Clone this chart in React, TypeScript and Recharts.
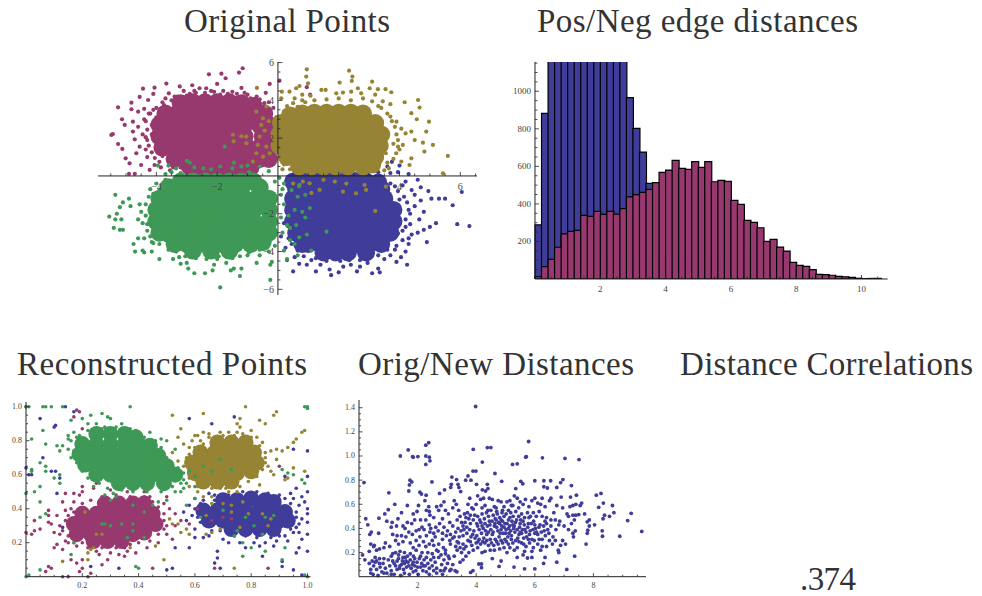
import React from "react";
import { ScatterChart, Scatter, XAxis, YAxis, ReferenceLine, ComposedChart, Bar } from "recharts";

type P = [number, number];
const BLUE = "#3F3D99", MAG = "#97396F", GOLD = "#968434", GREEN = "#3D9955";
const SERIF = "'Liberation Serif', serif";

// ---------- Panel 1: Original Points
const p1BlueCore: P[] = [[0.5,-0.3],[0.9,-0.3],[1.3,-0.25],[1.7,-0.25],[2.1,-0.25],[2.5,-0.25],[2.9,-0.3],[3.3,-0.35],[0.6,-0.7],[0.9,-0.6],[1.3,-0.6],[1.7,-0.6],[2.1,-0.6],[2.5,-0.6],[2.9,-0.6],[3.4,-0.7],[0.5,-1.2],[0.8,-1.2],[1.1,-1.2],[1.5,-1.2],[1.9,-1.2],[2.3,-1.2],[2.7,-1.2],[3.1,-1.2],[3.5,-1.2],[0.5,-1.8],[0.8,-1.8],[1.1,-1.8],[1.5,-1.8],[1.9,-1.8],[2.3,-1.8],[2.7,-1.8],[3.1,-1.8],[3.5,-1.8],[3.8,-1.8],[0.5,-2.4],[0.8,-2.4],[1.1,-2.4],[1.5,-2.4],[1.9,-2.4],[2.3,-2.4],[2.7,-2.4],[3.1,-2.4],[3.5,-2.4],[3.8,-2.4],[0.6,-3],[0.8,-3],[1.2,-3],[1.6,-3],[2,-3],[2.4,-3],[2.8,-3],[3.2,-3],[3.7,-3],[0.8,-3.6],[1,-3.6],[1.4,-3.6],[1.8,-3.6],[2.2,-3.6],[2.6,-3.6],[3,-3.6],[3.4,-3.6],[1.5,-4.05],[1.9,-4.05],[2.3,-4.05],[2.9,-4.05]];
const p1MagCore: P[] = [[-3.2,3.85],[-2.8,3.9],[-2.4,3.9],[-2,3.9],[-1.6,3.9],[-1.2,3.85],[-0.8,3.7],[-3.7,3.3],[-3.3,3.3],[-2.9,3.3],[-2.5,3.3],[-2.1,3.3],[-1.7,3.3],[-1.3,3.3],[-0.8,3.3],[-0.45,3.3],[-3.9,2.7],[-3.5,2.7],[-3.1,2.7],[-2.7,2.7],[-2.3,2.7],[-1.9,2.7],[-1.5,2.7],[-1.1,2.7],[-0.6,2.7],[-0.3,2.7],[-3.9,2.1],[-3.5,2.1],[-3.1,2.1],[-2.7,2.1],[-2.3,2.1],[-1.9,2.1],[-1.5,2.1],[-1.1,2.1],[-0.5,2.1],[-0.3,2.1],[-3.8,1.5],[-3.4,1.5],[-3,1.5],[-2.6,1.5],[-2.2,1.5],[-1.8,1.5],[-1.4,1.5],[-1,1.5],[-0.6,1.5],[-0.3,1.5],[-3.4,0.9],[-3,0.9],[-2.6,0.9],[-2.2,0.9],[-1.8,0.9],[-1.4,0.9],[-1,0.9],[-0.6,0.9],[-0.3,0.9],[-2.9,0.5],[-2.5,0.45],[-2.1,0.4],[-1.7,0.4],[-1.3,0.4],[-0.9,0.45]];
const p1GoldCore: P[] = [[0.8,3.3],[1.2,3.35],[1.6,3.35],[2,3.35],[2.4,3.35],[2.8,3.3],[0.4,3.2],[0.1,2.8],[0.4,2.8],[0.8,2.8],[1.2,2.8],[1.6,2.8],[2,2.8],[2.4,2.8],[2.8,2.8],[3.2,2.8],[0.05,2.2],[0.35,2.2],[0.7,2.2],[1.1,2.2],[1.5,2.2],[1.9,2.2],[2.3,2.2],[2.7,2.2],[3.1,2.2],[3.4,2.2],[0.05,1.6],[0.3,1.6],[0.6,1.6],[1,1.6],[1.4,1.6],[1.8,1.6],[2.2,1.6],[2.6,1.6],[3,1.6],[3.35,1.6],[0.3,1],[0.7,1],[1.1,1],[1.5,1],[1.9,1],[2.3,1],[2.7,1],[3.2,1],[0.7,0.5],[1.1,0.5],[1.5,0.5],[1.9,0.5],[2.3,0.5],[2.8,0.5],[3.1,0.6]];
const p1GreenCore: P[] = [[-3.2,-0.3],[-2.8,-0.3],[-2.4,-0.3],[-2,-0.3],[-1.6,-0.3],[-1.2,-0.3],[-0.8,-0.3],[-3.6,-0.6],[-3.2,-0.6],[-2.8,-0.6],[-2.4,-0.6],[-2,-0.6],[-1.6,-0.6],[-1.2,-0.6],[-0.6,-0.6],[-3.9,-1.2],[-3.5,-1.2],[-3.1,-1.2],[-2.7,-1.2],[-2.3,-1.2],[-1.9,-1.2],[-1.5,-1.2],[-1.1,-1.2],[-0.7,-1.2],[-0.3,-1.2],[-4,-1.8],[-3.6,-1.8],[-3.2,-1.8],[-2.8,-1.8],[-2.4,-1.8],[-2,-1.8],[-1.6,-1.8],[-1.2,-1.8],[-0.8,-1.8],[-0.3,-1.8],[-4,-2.4],[-3.6,-2.4],[-3.2,-2.4],[-2.8,-2.4],[-2.4,-2.4],[-2,-2.4],[-1.6,-2.4],[-1.2,-2.4],[-0.8,-2.4],[-0.3,-2.4],[-3.9,-3],[-3.5,-3],[-3.1,-3],[-2.7,-3],[-2.3,-3],[-1.9,-3],[-1.5,-3],[-1.1,-3],[-0.7,-3],[-0.3,-3],[-3.4,-3.6],[-3,-3.6],[-2.6,-3.6],[-2.2,-3.6],[-1.8,-3.6],[-1.4,-3.6],[-0.9,-3.6],[-0.5,-3.5],[-2.8,-3.95],[-2.2,-3.95],[-1.6,-3.95]];
const p1BlueOut: P[] = [[0.6,0.3],[0.95,0.35],[1.3,0.25],[3.3,0.2],[3.6,0.5],[3.7,0.15],[4,0.55],[3.95,0.2],[4.3,0.1],[3.75,0.75],[4.2,-0.3],[4.6,-0.2],[4.7,-0.6],[4.4,-0.75],[4.1,-0.5],[4.5,-1],[4.95,-0.8],[5.05,-1.2],[5.3,-1.2],[5.5,-1.2],[5.75,-1.55],[6.05,-0.85],[5.9,-2.55],[6.3,-2.65],[5.2,-2.5],[5,-2.7],[4.8,-2.85],[4.6,-3],[4.65,-2.3],[4.8,-1.9],[4.5,-1.6],[4.7,-1.3],[4.35,-2],[4.2,-2.7],[4.4,-3.1],[4.1,-3.4],[4.3,-3.6],[4.2,-4],[4.05,-4.3],[4.25,-4.7],[3.7,-4.2],[3.5,-4.4],[3.3,-4.9],[3.35,-5.1],[3.1,-5.15],[2.7,-4.8],[2.6,-5.05],[2.4,-4.7],[2.15,-4.8],[2,-5.1],[1.7,-4.95],[1.75,-5.25],[1.4,-4.7],[1.25,-5.05],[0.95,-4.7],[0.7,-4.65],[0.5,-5.05],[0.3,-4.45],[0.25,-3.8],[0.1,-3.2],[0.35,-3.3],[0.2,-2.5],[2.95,-4.6],[3.85,-3.9],[3.9,-4.55],[4.9,-3.5],[3.95,-3.05],[1.1,-4.45],[1.6,-4.5],[2.35,-4.45],[3,-4.35],[0.55,-4.3],[4.15,-1.1],[4.25,-1.4],[4.2,-2.3],[4.1,-2.9],[3.95,-0.8],[3.7,-0.4],[3.9,-3.7],[3.6,-3.9],[3.3,-4.2],[2.7,-4.45],[2.05,-4.5],[1.25,-4.35],[0.85,-4.25],[0.65,-3.95],[0.45,-3.6],[3.85,-0.55],[4,-1.25],[4.3,-1.8],[4.35,-2.55],[4.3,-3.3]];
const p1MagOut: P[] = [[-1.16,5.7],[-1.28,5.47],[-2.27,5.38],[-1.86,5.41],[-1.72,5.17],[0.05,5.04],[-0.27,4.87],[-3.67,4.89],[-4.06,4.67],[-4.44,4.62],[-3.23,4.74],[-2.82,4.8],[-2,4.87],[-1.2,4.66],[-4.82,3.88],[-5.26,3.63],[-4.55,4.18],[-4.27,4.02],[-3.59,4.37],[-2.58,4.64],[-2.36,4.64],[-4.1,4.34],[-4.82,3.53],[-4.6,3.4],[-5.13,3],[-5.04,2.7],[-4.77,2.87],[-5.48,2.17],[-5.43,2.22],[-5.26,1.69],[-5.12,1.43],[-5.01,0.93],[-4.88,0.67],[-4.9,0.11],[-4.71,0.11],[-4.5,0.58],[-4.77,2.35],[-4.71,1.94],[-4.55,1.55],[-4.66,1.2],[-4.22,0.32],[-4.06,0.58],[-4.4,3],[-4.25,3.3],[-4,3.6],[-3.8,3.9],[-4.6,2.6],[-4.45,2.2],[-4.3,1.9],[-4.35,1.4],[-4.3,1],[-4.05,0.95],[-3.85,0.45],[-3.7,4.1],[-3.4,4.2],[-3.1,4.5],[-2.9,4.35],[-2.7,4.4],[-2.4,4.4],[-2.1,4.45],[-1.8,4.5],[-1.5,4.45],[-1,4.3],[-0.7,4.2],[-0.4,4.4],[-0.3,3.9],[-0.15,3.6],[-0.05,3.1],[0.2,3.4],[-4.4,3.55],[-4.15,2.7],[0.15,2.6],[0.3,3],[0.95,4.7],[1.06,4.3],[-4.2,3.3],[-4.35,2.9],[-4.3,2.45],[-4.35,2.05],[-4.25,1.6],[-4.15,1.25],[-3.95,1.25],[-3.9,0.75],[-3.6,0.95],[-3.45,0.45],[-3.2,0.45],[-3.75,3.75],[-3.5,4],[-3.3,4.2],[-3,4.25],[-2.75,4.5],[-2.2,4.5],[-1.9,4.3],[-1.65,4.35],[-1.35,4.35],[-1.1,4.4],[-0.9,4.1],[-0.6,4.05],[-0.45,3.85],[-4,3.1],[-4.15,2.2],[-4.1,3.5],[-3.9,3.3],[-3.55,0.3],[-3.8,1.05]];
const p1GoldOut: P[] = [[0.95,5.64],[0.93,5.26],[0.99,4.9],[2.34,5.57],[2.45,5.26],[2.43,5.03],[2.03,4.94],[3.1,4.99],[0.71,4.76],[0.6,4.64],[-0.69,4.66],[0.13,4.46],[0.38,4.46],[0.11,4.11],[1.07,4.25],[1.43,4.55],[1.57,4.55],[1.92,4.37],[2.14,4.41],[2.41,4.46],[2.63,4.64],[2.74,4.37],[3.02,4.64],[3.29,4.59],[3.54,4.59],[3.73,4.43],[4.17,3.9],[4.61,4.02],[4.66,3.62],[4.39,3.32],[4.57,3],[4.97,2.87],[4.88,2.35],[4.39,2.35],[4.77,1.76],[5.1,1.64],[5.59,1.06],[4.82,1.29],[4.39,0.93],[4.33,0.58],[5.43,0.14],[3.95,1.9],[4.11,1.64],[3.89,1.2],[4.06,0.76],[3.7,3.14],[3.9,2.87],[4.06,2.5],[4.2,2.25],[4.5,1.9],[4,1.4],[3.2,4.3],[3.45,3.95],[3.7,3.8],[0.8,4.3],[0.55,4.1],[0.8,4],[1.5,-0.2],[1.87,-0.3],[2.25,-0.4],[2.14,-0.83],[2.57,-0.92],[2.85,-0.48],[2.9,-0.74],[3.55,-0.56],[3.2,-1.85],[0.82,-0.3],[1.1,-0.9],[1.37,-0.74],[0.5,-0.4],[0.71,-0.48],[1.04,-0.39],[-1.48,2.18],[-1.46,1.83],[-1.2,2.1],[-1.04,2.08],[-1.04,1.73],[-0.6,2.08],[-0.66,1.64],[-0.71,1.2],[-0.82,0.76],[-0.49,3.05],[-0.71,3.4],[-0.38,3.67],[-0.55,2.7],[-0.44,2.4],[-0.38,1.55],[-0.27,1.2],[-0.49,1.02],[-0.3,2.9],[0.9,3.9],[1.2,4],[1.6,4.05],[2,4.1],[2.4,4],[2.8,4.1],[3.1,3.95],[3.4,3.6],[3.6,3.3],[3.85,2.6],[3.9,2.2],[3.95,1.55],[3.8,0.9],[3.6,0.7],[3.5,0.3],[3.2,0.3],[0.3,3.7],[0.5,3.85],[0.65,3.65],[3.3,3.7],[3.75,2.9],[3.8,1.7],[3.55,1.2],[3.65,0.4],[0.2,0.6],[0.4,0.35],[0.15,0.35],[0.1,1]];
const p1GreenOut: P[] = [[-1.75,1.55],[-3,0.8],[-2.9,0.7],[-3.6,0.55],[-3.95,0.55],[-3.35,0.4],[-2.75,0.45],[-2.45,0.4],[-2.2,0.35],[-1.9,0.5],[-1.5,0.4],[-1.45,0.7],[-1.2,0.5],[-1,0.55],[-0.6,0.5],[-0.3,0.25],[-0.95,0.2],[0.05,-0.1],[0.2,-0.4],[0.45,-0.75],[0.65,-1.1],[0.9,-1],[1.05,-1.7],[0.8,-1.9],[0.55,-1.8],[0.35,-2.1],[0.6,-2.6],[0.4,-2.75],[0.95,-3.1],[1.6,-2.95],[0.4,-3.4],[0.55,-3.6],[1.1,-3.95],[0.65,-4.2],[0.3,-4.4],[0.2,-3.95],[-0.2,-4.55],[-0.25,-4.7],[-0.25,-5.5],[-1.9,-5.9],[-1.25,-5.3],[-1.45,-4.9],[-1.2,-4.9],[-1.55,-5],[-1.7,-4.6],[-1.5,-4.35],[-2,-4.4],[-2.1,-4.7],[-2.15,-5],[-2.4,-5.15],[-2.75,-5.15],[-2.95,-4.9],[-3,-4.6],[-3.2,-4.65],[-3.25,-4.3],[-3.45,-4.4],[-3.9,-4.4],[-4.15,-4],[-4.4,-4.05],[-4.45,-3.95],[-4.7,-4],[-4.75,-3.6],[-4.6,-3.3],[-5.1,-2.85],[-5.4,-2.75],[-5.2,-2.85],[-5.15,-2.3],[-5.55,-2.15],[-5.35,-2.3],[-5.3,-2],[-5.2,-1.65],[-5.1,-1.4],[-4.9,-1.2],[-5.35,-1],[-4.85,-1.6],[-4.55,-1.5],[-4.5,-1.9],[-4.6,-2.3],[-4.45,-2.5],[-4.3,-2.9],[-4.4,-3.3],[-4.15,-3.5],[-4.25,-1.1],[-4.2,-0.7],[-4,-0.4],[-3.7,-0.2],[-0.6,-4.2],[-0.7,-4.6],[-1,-4.2],[-0.3,-4],[-3.6,-3.9],[-4,-3.2],[0.15,-0.7],[-0.1,-0.3],[-3.5,0.2],[-3.2,0.15],[-4.35,-1.5],[-4.35,-2.1],[-4.3,-2.55],[-4.2,-3.2],[-3.9,-3.6],[-3.7,-3.4],[-3.35,-4],[-3.05,-4.25],[-2.7,-4.35],[-2.35,-4.4],[-1.95,-4.25],[-1.6,-4.3],[-1.25,-4.25],[-0.95,-4.05],[-0.6,-3.9],[-0.1,-3.7],[0.15,-3],[0.1,-2.2],[0.2,-1.5],[0.1,-1],[-4.1,-0.95],[-3.9,-0.75],[-3.7,0.1],[-4.1,-3.55],[0.3,-2.6],[0.7,-3.25],[0.9,-2.2],[0.7,-0.55]];

// ---------- Panel 2: histogram
const binStarts = [0,0.2,0.4,0.6,0.8,1,1.2,1.4,1.6,1.8,2,2.2,2.4,2.6,2.8,3,3.2,3.4,3.6,3.8,4,4.2,4.4,4.6,4.8,5,5.2,5.4,5.6,5.8,6,6.2,6.4,6.6,6.8,7,7.2,7.4,7.6,7.8,8,8.2,8.4,8.6,8.8,9,9.2,9.4,9.6,9.8,10,10.2,10.4,10.6];
const posCounts = [288,882,1250,1300,1330,1340,1320,1350,1330,1340,1300,1290,1280,1240,966,802,676,509,380,270,180,120,70,40,20,10,5,2,0,0,0,0,0,0,0,0,0,0,0,0,0,0,0,0,0,0,0,0,0,0,0,0,0,0];
const negCounts = [12,66,105,169,240,254,259,339,334,360,344,360,346,375,437,449,461,477,513,568,580,632,589,584,625,595,625,518,525,520,419,398,312,302,273,200,211,170,149,89,73,67,50,25,23,20,14,12,9,4,2,3,3,0];
const histRows = binStarts.map((b, i) => ({ bin: String(b), start: b, pos: posCounts[i], neg: negCounts[i] }));

// ---------- Panel 3: Reconstructed Points
const p3BlueCore: P[] = [[0.7,0.45],[0.75,0.45],[0.8,0.46],[0.85,0.45],[0.88,0.44],[0.63,0.39],[0.68,0.39],[0.73,0.39],[0.78,0.39],[0.83,0.39],[0.88,0.39],[0.92,0.38],[0.65,0.33],[0.7,0.33],[0.75,0.33],[0.8,0.33],[0.85,0.33],[0.9,0.33],[0.93,0.33],[0.73,0.28],[0.78,0.28],[0.83,0.28],[0.88,0.28]];
const p3MagCore: P[] = [[0.28,0.43],[0.33,0.43],[0.38,0.43],[0.42,0.43],[0.2,0.37],[0.25,0.37],[0.3,0.37],[0.35,0.37],[0.4,0.37],[0.45,0.37],[0.17,0.31],[0.22,0.31],[0.27,0.31],[0.32,0.31],[0.37,0.31],[0.42,0.31],[0.46,0.31],[0.18,0.25],[0.23,0.25],[0.28,0.25],[0.33,0.25],[0.38,0.25],[0.42,0.26],[0.24,0.21],[0.29,0.21],[0.34,0.21]];
const p3GoldCore: P[] = [[0.68,0.79],[0.73,0.79],[0.78,0.79],[0.62,0.73],[0.67,0.73],[0.72,0.73],[0.77,0.73],[0.81,0.73],[0.59,0.67],[0.64,0.67],[0.69,0.67],[0.74,0.67],[0.79,0.67],[0.82,0.67],[0.6,0.61],[0.65,0.61],[0.7,0.61],[0.75,0.61],[0.8,0.62],[0.63,0.56],[0.68,0.56],[0.73,0.56]];
const p3GreenCore: P[] = [[0.25,0.84],[0.3,0.84],[0.35,0.84],[0.39,0.82],[0.2,0.78],[0.25,0.78],[0.3,0.78],[0.35,0.78],[0.4,0.78],[0.44,0.77],[0.19,0.72],[0.24,0.72],[0.29,0.72],[0.34,0.72],[0.39,0.72],[0.44,0.72],[0.47,0.71],[0.21,0.66],[0.26,0.66],[0.31,0.66],[0.36,0.66],[0.41,0.66],[0.46,0.66],[0.5,0.65],[0.25,0.6],[0.3,0.6],[0.35,0.6],[0.4,0.6],[0.45,0.6],[0.5,0.6],[0.53,0.6],[0.33,0.55],[0.38,0.55],[0.43,0.55],[0.49,0.55]];
const p3BlueOut: P[] = [[0,1],[0.14,1],[0.17,0.97],[0.05,0.93],[0.1,0.88],[0.105,0.89],[0.06,0.7],[0,0.64],[0.01,0.6],[0.02,0.6],[0.09,0.62],[0.105,0.62],[0.12,0.58],[0.58,0.93],[0.74,0.94],[0.66,0.9],[1,0.74],[0.95,0.75],[0.92,0.59],[1,0.59],[1,0.5],[0.98,0.47],[0.95,0.46],[0.97,0.42],[1,0.4],[0.96,0.38],[1,0.37],[0.98,0.34],[1,0.32],[0.96,0.29],[0.95,0.26],[1,0.25],[0.98,0.22],[0.92,0.24],[0.89,0.21],[0.85,0.2],[0.83,0.18],[0.78,0.17],[0.76,0.2],[0.72,0.2],[0.68,0.15],[0.68,0.11],[0.67,0.08],[0.69,0.05],[0.5,0.04],[0.52,0.05],[0.33,0.05],[0.23,0.06],[0.13,0.29],[0.11,0.49],[0.27,0.2],[0.35,0.17],[0.53,0.17],[0.58,0.17],[0.6,0.23],[0.6,0.28],[0.57,0.33],[0.59,0.36],[0.56,0.38],[0.58,0.42],[0.6,0.46],[0.63,0.45],[0.65,0.49],[0.67,0.48],[0.94,0.49],[0.96,0.52],[0.91,0.06],[0.98,0.01],[0.95,0.04],[0.97,0.17],[1,0.15],[0.96,0.14],[0.84,0.12],[0.91,0.09],[0.7,0.22],[0.66,0.27],[0.63,0.23],[0.92,0.46],[0.94,0.43],[0.96,0.35],[0.94,0.28],[0.9,0.24],[0.87,0.23],[0.82,0.23],[0.78,0.24],[0.74,0.24],[0.69,0.27],[0.62,0.32],[0.61,0.35],[0.6,0.4],[0.62,0.43],[0.67,0.45],[0.72,0.48],[0.77,0.5],[0.82,0.5],[0.86,0.49],[0.9,0.48],[0.97,0.31],[0.97,0.26],[0.93,0.21],[0.88,0.18],[0.81,0.2],[0.65,0.24],[0.99,0.44]];
const p3MagOut: P[] = [[0.18,0.98],[0.19,0.97],[0.17,0.94],[0.2,0.87],[0.22,0.79],[0,0.26],[0.02,0.25],[0.03,0.27],[0.03,0.33],[0.05,0.28],[0.08,0.32],[0.08,0.36],[0.08,0.39],[0.09,0.31],[0.1,0.26],[0.11,0.36],[0.12,0.25],[0.11,0.19],[0.1,0.17],[0.13,0.16],[0.14,0.21],[0.15,0.24],[0.14,0.39],[0.16,0.4],[0.17,0.44],[0.13,0.44],[0.14,0.49],[0.17,0.49],[0.19,0.48],[0.2,0.5],[0.2,0.53],[0.24,0.52],[0.25,0.55],[0.3,0.51],[0.42,0.5],[0.44,0.47],[0.49,0.43],[0.51,0.4],[0.53,0.37],[0.55,0.33],[0.5,0.3],[0.5,0.25],[0.52,0.22],[0.47,0.2],[0.43,0.17],[0.39,0.14],[0.35,0.12],[0.33,0.13],[0.29,0.1],[0.27,0.07],[0.2,0.1],[0.18,0.08],[0.16,0.1],[0.2,0.05],[0.09,0.05],[0.08,0.06],[0.07,0.03],[0.13,0],[0.15,0],[0.19,0.03],[0.22,0],[0.23,0.02],[0.45,0.05],[0.67,0.05],[0.86,0.05],[0.7,0.35],[0.73,0.34],[0.66,0.33],[0.61,0.4],[0.58,0.31],[0.53,0.3],[0.9,0.65],[0.22,0.17],[0.25,0.15],[0.3,0.14],[0.37,0.19],[0.32,0.17],[0.14,0.33],[0.13,0.27],[0.15,0.2],[0.18,0.18],[0.2,0.2],[0.27,0.17],[0.33,0.18],[0.4,0.2],[0.44,0.21],[0.47,0.25],[0.49,0.28],[0.49,0.33],[0.49,0.37],[0.47,0.41],[0.45,0.44],[0.42,0.47],[0.37,0.47],[0.32,0.48],[0.27,0.47],[0.23,0.45],[0.2,0.43],[0.17,0.38],[0.15,0.36],[0.36,0.15],[0.41,0.24],[0.12,0.3],[0.26,0.13],[0.5,0.47],[0.36,0.5]];
const p3GoldOut: P[] = [[0.52,0.95],[0.63,0.96],[0.78,1],[0.89,0.97],[0.88,0.95],[0.85,0.9],[0.83,0.92],[0.8,0.86],[0.76,0.93],[0.75,0.9],[0.76,0.88],[0.55,0.87],[0.54,0.82],[0.6,0.83],[0.61,0.83],[0.63,0.85],[0.65,0.84],[0.69,0.85],[0.72,0.85],[0.75,0.85],[0.77,0.84],[0.8,0.82],[0.84,0.79],[0.87,0.74],[0.89,0.75],[0.91,0.74],[0.93,0.76],[0.95,0.79],[0.98,0.85],[0.99,0.86],[0.96,0.81],[0.85,0.7],[0.89,0.69],[0.86,0.65],[0.88,0.6],[0.95,0.64],[0.99,0.62],[0.92,0.57],[0.52,0.73],[0.54,0.68],[0.55,0.62],[0.56,0.78],[0.58,0.76],[0.58,0.72],[0.59,0.8],[0.58,0.53],[0.61,0.5],[0.63,0.47],[0.66,0.47],[0.69,0.52],[0.72,0.5],[0.75,0.5],[0.77,0.44],[0.73,0.42],[0.7,0.43],[0.66,0.43],[0.64,0.36],[0.73,0.38],[0.79,0.37],[0.84,0.37],[0.87,0.34],[0.86,0.3],[0.76,0.29],[0.69,0.28],[0.66,0.26],[0.64,0.25],[0.58,0.25],[0.55,0.26],[0.57,0.28],[0.54,0.31],[0.52,0.31],[0.51,0.34],[0.21,0.38],[0.25,0.25],[0.27,0.25],[0.22,0.14],[0.23,0.16],[0.24,0.17],[0.22,0.1],[0.13,0.09],[0.46,0.18],[0.67,0.59],[0.7,0.61],[0.72,0.56],[0.49,0.1],[0.74,0.05],[0.37,0.17],[0.93,0.58],[0.58,0.63],[0.6,0.57],[0.17,0.2],[0.62,0.8],[0.65,0.82],[0.7,0.83],[0.74,0.83],[0.79,0.8],[0.83,0.77],[0.85,0.73],[0.85,0.67],[0.84,0.63],[0.82,0.59],[0.79,0.56],[0.76,0.53],[0.71,0.52],[0.66,0.52],[0.61,0.53],[0.58,0.58],[0.56,0.65],[0.57,0.7],[0.6,0.76],[0.63,0.78],[0.82,0.82],[0.87,0.62],[0.83,0.54]];
const p3GreenOut: P[] = [[0,1],[0.01,1],[0.06,1],[0.07,1],[0.09,1],[0.13,1],[0.37,1],[0.27,0.96],[0.3,0.93],[0.29,0.94],[0.23,0.95],[0.16,0.92],[0.2,0.93],[0.25,0.9],[0.28,0.88],[0.06,0.86],[0.02,0.81],[0.07,0.78],[0.11,0.77],[0.12,0.74],[0.13,0.77],[0.15,0.75],[0.15,0.81],[0.15,0.83],[0.18,0.82],[0.05,0.67],[0.07,0.65],[0.02,0.63],[0.07,0.62],[0.02,0.62],[0.12,0.6],[0.1,0.58],[0.12,0.55],[0.05,0.53],[0.03,0.5],[0.05,0.44],[0.05,0.35],[0.07,0.37],[0,0.49],[0.44,0.85],[0.42,0.82],[0.48,0.81],[0.5,0.8],[0.53,0.75],[0.48,0.76],[0.55,0.55],[0.57,0.55],[0.6,0.53],[0.53,0.5],[0.55,0.5],[0.5,0.45],[0.47,0.44],[0.45,0.42],[0.42,0.38],[0.38,0.42],[0.3,0.45],[0.32,0.47],[0.28,0.48],[0.38,0.31],[0.34,0.31],[0.3,0.3],[0.28,0.31],[0.27,0.31],[0.36,0.23],[0.38,0.27],[0.42,0.23],[0.16,0.13],[0.17,0.2],[0.05,0.04],[0.39,0.06],[0.4,0.05],[1,1],[1,0.99],[0.99,1],[0,0],[0.01,0.01],[1,0],[0.99,0.01],[0.98,0.57],[0.99,0.55],[0.95,0.6],[0.91,0.63],[0.93,0.61],[0.69,0.69],[0.66,0.62],[0.63,0.65],[0.73,0.63],[0.7,0.39],[0.75,0.27],[0.78,0.35],[0.81,0.3],[0.85,0.35],[0.88,0.36],[0.84,0.25],[0.8,0.17],[0.77,0.12],[0.85,0.15],[0.91,0.1],[0.92,0.17],[0.74,0.24],[0.77,0.2],[0.57,0.42],[0.6,0.46],[0.62,0.35],[0.58,0.62],[0.56,0.61],[0.16,0.8],[0.17,0.74],[0.16,0.7],[0.18,0.67],[0.2,0.62],[0.22,0.58],[0.26,0.55],[0.29,0.52],[0.34,0.51],[0.38,0.5],[0.43,0.5],[0.48,0.5],[0.52,0.53],[0.56,0.57],[0.54,0.64],[0.5,0.7],[0.46,0.75],[0.43,0.8],[0.37,0.87],[0.32,0.88],[0.27,0.87],[0.22,0.86],[0.19,0.83],[0.34,0.9],[0.39,0.86],[0.46,0.8],[0.24,0.53],[0.31,0.49],[0.56,0.52],[0.6,0.59],[0.17,0.85],[0.22,0.9]];

// ---------- Panel 4: Orig/New Distances
const p4Points: P[] = [[3.98,1.41],[5.79,1.12],[2.28,1.09],[2.38,1.11],[1.68,1.05],[3.9,1.055],[4.38,1.07],[4.5,1.07],[1.41,1],[1.83,0.995],[1.85,0.99],[2.01,0.995],[2.28,1],[2.4,0.99],[2.42,0.96],[2.28,0.93],[4.21,0.95],[5.24,0.93],[5.4,0.935],[5.71,0.995],[5.69,0.99],[6.26,0.985],[7.03,0.98],[7.51,0.97],[0.17,0.78],[3.89,0.875],[3.99,0.875],[4.64,0.855],[3.17,0.825],[3.33,0.805],[3.72,0.835],[3.64,0.8],[3.82,0.8],[1.74,0.8],[1.8,0.785],[1.72,0.76],[2.49,0.785],[1.7,0.71],[1.02,0.695],[2.08,0.7],[2.13,0.685],[2.29,0.675],[2.25,0.63],[2.75,0.69],[2.92,0.72],[3.15,0.765],[3.13,0.74],[3.38,0.765],[3.41,0.74],[3.47,0.705],[4.01,0.765],[4.38,0.765],[4.4,0.73],[4.21,0.72],[4.32,0.71],[4.87,0.79],[5.35,0.73],[5.52,0.79],[5.59,0.77],[6,0.795],[6.31,0.795],[6.54,0.795],[6.31,0.745],[6.43,0.735],[6.75,0.74],[6.88,0.78],[6.96,0.805],[7.25,0.755],[7.22,0.66],[6.9,0.66],[7.42,0.675],[8.1,0.675],[8.26,0.69],[8.18,0.575],[8.34,0.61],[8.65,0.59],[8.7,0.53],[9.29,0.525],[8.38,0.51],[8.33,0.48],[8.55,0.5],[9.17,0.465],[9.65,0.375],[8.9,0.335],[8.3,0.38],[8.31,0.335],[8.04,0.43],[7.86,0.47],[7.79,0.455],[7.86,0.42],[7.81,0.385],[7.79,0.36],[7.75,0.27],[7.36,0.17],[7.09,0.06],[6,0.065],[5.65,0.065],[5.29,0.08],[4.78,0.085],[4.18,0.075],[3.81,0.035],[3.89,0.05],[4.09,0.105],[4.18,0.105],
[0.23,0.48],[0.3,0.43],[0.37,0.35],[0.42,0.37],[0.4,0.27],[0.5,0.25],[0.67,0.36],[0.68,0.485],[0.88,0.52],[0.95,0.46],[1,0.555],[1.13,0.45],[1.1,0.41],[1.22,0.6],[1.28,0.42],[1.33,0.48],[1.45,0.53],[1.5,0.42],[1.57,0.4],[1.65,0.59],[1.65,0.45],[1.8,0.44],[1.85,0.52],[1.9,0.47],[1.98,0.54],[2.03,0.59],[2.1,0.47],[2.05,0.39],[2.15,0.41],[2.3,0.55],[2.38,0.58],[2.4,0.54],[2.42,0.51],[2.28,0.47],[2.4,0.43],[2.45,0.4],[2.55,0.49],[2.65,0.58],[2.72,0.55],[2.8,0.59],[2.9,0.62],[2.95,0.55],[3.05,0.52],[2.85,0.48],[2.75,0.44],[2.9,0.41],[3.1,0.45],[3.02,0.38],[3.2,0.57],[3.25,0.63],[3.32,0.6],[3.4,0.55],[3.45,0.5],[3.5,0.45],[3.55,0.42],[3.65,0.49],[3.7,0.53],[3.72,0.6],[3.78,0.65],[3.85,0.57],[3.9,0.56],[3.95,0.51],[4,0.6],[4.05,0.67],[4.15,0.64],[4.25,0.65],[4.3,0.59],[4.4,0.55],[4.45,0.65],[4.55,0.64],[4.62,0.58],[4.7,0.54],[4.75,0.63],[4.85,0.62],[4.95,0.58],[5.05,0.62],[5.1,0.55],[5.15,0.63],[5.25,0.59],[5.3,0.67],[5.4,0.65],[5.5,0.62],[5.6,0.6],[5.68,0.64],[5.8,0.58],[5.9,0.63],[6,0.65],[6.1,0.61],[6.2,0.6],[6.25,0.65],[6.35,0.58],[6.5,0.63],[6.55,0.65],[6.75,0.59],[6.95,0.57],[7.1,0.52],[7.3,0.51],[7.4,0.51],[7.5,0.515],[7.55,0.59],[7.7,0.52],[7.4,0.6],[7.6,0.61],[7.3,0.59],[7.2,0.58],[6.65,0.53],[6.7,0.47],[6.85,0.46],[7,0.42],[7.15,0.39],[7.25,0.44],[7.35,0.47],[7.15,0.5],[7.38,0.38],[7.3,0.36],[7.32,0.33],[7.05,0.27],[6.95,0.3],[6.88,0.26],[6.8,0.22],[6.82,0.2],[6.75,0.12],[6.3,0.11],[6.35,0.16],[5.9,0.16],[5.75,0.155],[5.6,0.18],[5.4,0.16],[5.05,0.2],[5.15,0.24],[4.95,0.24],[4.85,0.13],[4.55,0.15],[4.3,0.21],[4.2,0.2],[4.05,0.24],[3.9,0.22],[3.75,0.2],[3.65,0.17],[3.5,0.2],[3.55,0.14],[3.45,0.12],[3.35,0.22],[3.3,0.25],[3.12,0.27],[2.95,0.22],
[3.2,0.42],[3.3,0.37],[3.42,0.33],[3.55,0.34],[3.68,0.36],[3.72,0.3],[3.82,0.33],[3.92,0.38],[4.02,0.34],[4.1,0.31],[4.18,0.36],[4.26,0.32],[4.32,0.38],[4.38,0.42],[4.45,0.46],[4.5,0.39],[4.55,0.35],[4.62,0.42],[4.68,0.47],[4.74,0.38],[4.8,0.44],[4.85,0.39],[4.9,0.46],[4.95,0.41],[5,0.36],[5.05,0.44],[5.1,0.4],[5.15,0.49],[5.2,0.34],[5.25,0.43],[5.32,0.37],[5.38,0.47],[5.42,0.32],[5.48,0.41],[5.55,0.36],[5.6,0.46],[5.66,0.39],[5.72,0.33],[5.78,0.44],[5.84,0.38],[5.9,0.31],[5.96,0.46],[6.02,0.4],[6.1,0.35],[6.18,0.43],[6.25,0.31],[6.32,0.38],[6.4,0.44],[6.48,0.36],[6.55,0.42],[6.62,0.33],[6.72,0.39],[6.82,0.43],[6.5,0.3],[6.25,0.25],[6.1,0.27],[5.95,0.24],[5.82,0.28],[5.7,0.25],[5.55,0.28],[5.4,0.24],[5.25,0.28],[5.1,0.27],[4.9,0.28],[4.75,0.27],[4.6,0.26],[4.42,0.26],[4.3,0.28],[4.15,0.27],[4,0.28],[3.85,0.26],[3.65,0.25],[4.05,0.5],[4.12,0.47],[4.2,0.52],[4.28,0.48],[4.35,0.53],[4.42,0.5],[4.5,0.55],[4.58,0.51],[4.65,0.48],[4.72,0.52],[4.8,0.49],[4.88,0.53],[4.95,0.5],[5.02,0.52],[5.1,0.47],[5.18,0.53],[5.26,0.5],[5.35,0.54],[5.45,0.5],[5.55,0.52],[5.65,0.49],[5.75,0.53],[5.85,0.5],[5.95,0.53],[6.05,0.5],[6.15,0.54],[6.25,0.5],[6.4,0.49],[6.55,0.47],[5.3,0.42],[5.12,0.36],[4.98,0.31],[4.78,0.33],[4.65,0.31],[4.48,0.31],[4.85,0.47],[5.5,0.44],[5.62,0.32],[5.8,0.49],[5.5,0.37],[5.35,0.3],[6.35,0.46],[6,0.36],[3.35,0.47],[3.6,0.52],[3.8,0.44],[3.9,0.47],[3.62,0.45],[3.75,0.48],[4.05,0.42],[4.2,0.42],[4.68,0.57],[4.9,0.55],[5.45,0.57],[5.2,0.59],[3.8,0.51],[4.2,0.57],
[0.35,0.11],[0.4,0.06],[0.4,0.03],[0.45,0.13],[0.5,0.09],[0.48,0.02],[0.55,0.12],[0.6,0.06],[0.65,0.01],[0.7,0.15],[0.72,0.08],[0.78,0.04],[0.82,0.11],[0.85,0.15],[0.9,0.07],[0.95,0.03],[1,0.14],[1.05,0.09],[1.1,0.05],[1.15,0.13],[1.2,0.02],[1.25,0.09],[1.3,0.06],[1.35,0.15],[1.4,0.09],[1.42,0.01],[1.48,0.13],[1.52,0.06],[1.55,0.11],[1.58,0.16],[1.62,0.08],[1.67,0.12],[1.72,0.02],[1.75,0.14],[1.78,0.07],[1.82,0.1],[1.86,0.17],[1.9,0.09],[1.94,0.05],[1.98,0.12],[2.02,0.02],[2.06,0.15],[2.1,0.08],[2.14,0.11],[2.18,0.05],[2.22,0.14],[2.26,0.09],[2.3,0.04],[2.35,0.11],[2.4,0.07],[2.45,0.14],[2.5,0.09],[2.55,0.05],[2.6,0.12],[2.65,0.07],[2.72,0.16],[2.78,0.05],[2.82,0.1],[2.9,0.14],[2.95,0.07],[3.02,0.11],[3.08,0.15],[3.14,0.06],[3.2,0.1],[3.28,0.05],[3.34,0.04],[3.1,0.05],[2.9,0.05],[1.3,0.13],[1.45,0.1],[1.6,0.13],[1.38,0.07],[1.2,0.11],[1.7,0.09],[1.85,0.12],[2,0.08],[2.2,0.09],[0.7,0.11],[0.55,0.16],[1.1,0.17],[1.25,0.2],[1.15,0.19],[1.4,0.21],[1.55,0.2],[1.75,0.19],[1.95,0.22],[2.15,0.2],[2.35,0.2],[2.5,0.19],[2.65,0.22],[2.8,0.18],[2.95,0.19],[3.05,0.17],[3.25,0.17],[1.05,0.25],[0.9,0.28],[0.85,0.24],[0.7,0.23],[0.6,0.22],[0.52,0.26],[0.35,0.21],[0.12,0.18],[0.2,0.14],[1.25,0.3],[1.35,0.27],[1.5,0.29],[1.6,0.33],[1.75,0.28],[1.82,0.35],[1.95,0.3],[2.08,0.33],[2.2,0.29],[2.3,0.34],[2.42,0.37],[2.5,0.3],[2.6,0.33],[2.72,0.27],[2.85,0.31],[2.98,0.34],[3.1,0.3],[3.2,0.32],[3.35,0.29],[2.05,0.26],[2.28,0.25],[2.55,0.26],[1.45,0.34],[1.95,0.38],[2.22,0.39],[2.62,0.41],[1.15,0.35],
[4.02,0.44],[4.1,0.39],[4.16,0.45],[4.24,0.4],[4.3,0.44],[4.36,0.35],[4.42,0.37],[4.47,0.43],[4.54,0.46],[4.58,0.37],[4.64,0.44],[4.7,0.41],[4.76,0.45],[4.82,0.36],[4.87,0.42],[4.92,0.36],[4.98,0.44],[5.02,0.39],[5.08,0.33],[5.14,0.42],[5.18,0.38],[5.22,0.46],[5.28,0.4],[5.34,0.45],[5.4,0.39],[5.46,0.35],[5.52,0.47],[5.58,0.39],[5.64,0.43],[5.7,0.37],[5.76,0.41],[5.82,0.35],[5.88,0.44],[5.94,0.39],[6,0.43],[6.06,0.37],[6.14,0.41],[6.22,0.37],[6.3,0.42],[6.36,0.34],[6.44,0.39],[3.25,0.33],[3.38,0.4],[3.48,0.38],[3.58,0.39],[3.68,0.41],[3.78,0.39],[3.88,0.35],[3.96,0.32],[4.06,0.29],[4.22,0.29],[4.36,0.3],[4.52,0.28],[4.7,0.29],[4.85,0.3],[5.03,0.29],[5.2,0.31],[5.46,0.29],[5.62,0.27],[5.78,0.31],[5.98,0.3],[6.15,0.31],[3.4,0.28],[3.55,0.27],[3.45,0.24],[3.58,0.23],[3.8,0.29],[4.48,0.22],[4.62,0.22],[4.8,0.23],[5.3,0.22],[5.65,0.21],[5.9,0.21],[6.2,0.22],[6.4,0.25],[6.6,0.27],[6.7,0.3],[2.55,0.36],[2.7,0.38],[2.85,0.36],[3.12,0.35],[1.3,0.34],[1.7,0.37],[1.85,0.24],[2.4,0.27],[2.7,0.21],[2.88,0.24],[1.35,0.18],[1.5,0.16],[1.65,0.17],[1.9,0.15],[2.1,0.17],[2.3,0.16],[2.55,0.16],[2.85,0.02],[2.65,0.03],[2.4,0.02],[1.55,0.03],[1.85,0.04],[1.1,0.02],[0.85,0.03],[0.6,0.13]];

// ---------- Tick values
const p1XTicks = [-5.5,-5,-4.5,-4,-3.5,-3,-2.5,-2,-1.5,-1,-0.5,0.5,1,1.5,2,2.5,3,3.5,4,4.5,5,5.5,6,6.5];
const p1YTicks = [-6,-5.5,-5,-4.5,-4,-3.5,-3,-2.5,-2,-1.5,-1,-0.5,0.5,1,1.5,2,2.5,3,3.5,4,4.5,5,5.5,6];
const p2XTicks = [0.5,1,1.5,2,2.5,3,3.5,4,4.5,5,5.5,6,6.5,7,7.5,8,8.5,9,9.5,10,10.5];
const p2YTicks = [50,100,150,200,250,300,350,400,450,500,550,600,650,700,750,800,850,900,950,1000,1050,1100,1150];
const p3Ticks = [0.05,0.1,0.15,0.2,0.25,0.3,0.35,0.4,0.45,0.5,0.55,0.6,0.65,0.7,0.75,0.8,0.85,0.9,0.95,1];
const p4XTicks = [0.5,1,1.5,2,2.5,3,3.5,4,4.5,5,5.5,6,6.5,7,7.5,8,8.5,9,9.5];
const p4YTicks = [0.05,0.1,0.15,0.2,0.25,0.3,0.35,0.4,0.45,0.5,0.55,0.6,0.65,0.7,0.75,0.8,0.85,0.9,0.95,1,1.05,1.1,1.15,1.2,1.25,1.3,1.35,1.4];

const fmtNum = (v: number, d: number) => (v < 0 ? "\u2212" : "") + Math.abs(v).toFixed(d);
const isMajor = (v: number, step: number) => Math.abs(v / step - Math.round(v / step)) < 1e-6;

const INK = "#222";
const LABEL = "#444";

type TickCfg = { step: number; digits: number; fs: number; shift: number; gap: number; major: number; minor: number };

const XTick = (p: any) => {
  const { x, y, payload, cfg } = p;
  const v = payload.value;
  const m = isMajor(v, cfg.step);
  const y0 = y - cfg.shift;
  return (
    <g>
      <line x1={x} x2={x} y1={y0} y2={y0 - (m ? cfg.major : cfg.minor)} stroke={INK} strokeWidth={0.8} />
      {m && <text x={x} y={y0 + cfg.gap} textAnchor="middle" dominantBaseline="central" fontFamily={SERIF} fontSize={cfg.fs} fill={LABEL}>{fmtNum(v, cfg.digits)}</text>}
    </g>
  );
};
const YTick = (p: any) => {
  const { x, y, payload, cfg } = p;
  const v = payload.value;
  const m = isMajor(v, cfg.step);
  const x0 = x + cfg.shift;
  return (
    <g>
      <line x1={x0} x2={x0 + (m ? cfg.major : cfg.minor)} y1={y} y2={y} stroke={INK} strokeWidth={0.8} />
      {m && <text x={x0 - cfg.gap} y={y} textAnchor="end" dominantBaseline="central" fontFamily={SERIF} fontSize={cfg.fs} fill={LABEL}>{fmtNum(v, cfg.digits)}</text>}
    </g>
  );
};

const PAD = 40;
const dotShape = (r: number, color: string) => (p: any) => <circle cx={p.cx} cy={p.cy} r={r} fill={color} />;
const noMark = () => <g />;
const toRows = (pts: P[]) => pts.map(([x, y]) => ({ x, y }));

type S = { name: string; pts: P[]; color: string; r: number };
type PanelProps = {
  left: number; top: number; w: number; h: number;
  xd: [number, number]; yd: [number, number];
  series: S[]; xTicks: number[]; yTicks: number[];
  xCfg: Omit<TickCfg, "shift">; yCfg: Omit<TickCfg, "shift">;
};

function ScatterPanel({ left, top, w, h, xd, yd, series, xTicks, yTicks, xCfg, yCfg }: PanelProps) {
  const box = { position: "absolute" as const, left: left - PAD, top: top - PAD };
  const xShift = (h * (0 - yd[0])) / (yd[1] - yd[0]);
  const yShift = (w * (0 - xd[0])) / (xd[1] - xd[0]);
  const anchor = [{ x: xd[0], y: yd[0] }, { x: xd[1], y: yd[1] }];
  return (
    <>
      <div style={box}>
        <ScatterChart width={w + 2 * PAD} height={h + 2 * PAD} margin={{ left: PAD, right: PAD, top: PAD, bottom: PAD }}>
          <XAxis type="number" dataKey="x" domain={xd} hide />
          <YAxis type="number" dataKey="y" domain={yd} hide />
          {series.map((s) => (
            <Scatter key={s.name} name={s.name} data={toRows(s.pts)} fill={s.color} shape={dotShape(s.r, s.color)} isAnimationActive={false} />
          ))}
        </ScatterChart>
      </div>
      <div style={box}>
        <ScatterChart width={w + 2 * PAD} height={h + 2 * PAD} margin={{ left: PAD - 1, right: PAD, top: PAD, bottom: PAD - 1 }}>
          <XAxis type="number" dataKey="x" domain={xd} ticks={xTicks} interval={0} height={1} tickSize={0} tickMargin={0} axisLine={false} tickLine={false}
            tick={(p: any) => <XTick {...p} cfg={{ ...xCfg, shift: xShift }} />} />
          <YAxis type="number" dataKey="y" domain={yd} ticks={yTicks} interval={0} width={1} tickSize={0} tickMargin={0} axisLine={false} tickLine={false}
            tick={(p: any) => <YTick {...p} cfg={{ ...yCfg, shift: yShift }} />} />
          <Scatter data={anchor} shape={noMark} legendType="none" isAnimationActive={false} />
          <ReferenceLine x={0} stroke={INK} strokeWidth={1} />
          <ReferenceLine y={0} stroke={INK} strokeWidth={1} />
        </ScatterChart>
      </div>
    </>
  );
}

function HistPanel() {
  const left = 534.7, top = 62, w = 352.6, h = 217;
  return (
    <div style={{ position: "absolute", left: left - PAD, top: top - PAD }}>
      <ComposedChart width={w + 2 * PAD} height={h + 2 * PAD} data={histRows} margin={{ left: PAD - 1, right: PAD, top: PAD, bottom: PAD - 1 }} barCategoryGap={0}>
        <XAxis xAxisId="a" dataKey="bin" type="category" hide height={0} />
        <XAxis xAxisId="b" dataKey="bin" type="category" hide height={0} />
        <XAxis xAxisId="t" dataKey="start" type="number" domain={[0, 10.8]} allowDataOverflow ticks={p2XTicks} interval={0} height={1} tickSize={0} tickMargin={0} axisLine={false} tickLine={false}
          tick={(p: any) => <XTick {...p} cfg={{ step: 2, digits: 0, fs: 9, shift: 0, gap: 10, major: 4, minor: 2.5 }} />} />
        <YAxis domain={[0, 1156]} allowDataOverflow ticks={p2YTicks} interval={0} width={1} tickSize={0} tickMargin={0} axisLine={false} tickLine={false}
          tick={(p: any) => <YTick {...p} cfg={{ step: 200, digits: 0, fs: 9, shift: 0, gap: 4, major: 4, minor: 2.5 }} />} />
        <Bar xAxisId="a" dataKey="pos" fill={BLUE} stroke="#000" strokeWidth={1.2} isAnimationActive={false} />
        <Bar xAxisId="b" dataKey="neg" fill={MAG} stroke="#000" strokeWidth={1.2} isAnimationActive={false} />
        <ReferenceLine xAxisId="t" x={0} stroke={INK} strokeWidth={1} />
        <ReferenceLine xAxisId="t" y={0} stroke={INK} strokeWidth={1} />
      </ComposedChart>
    </div>
  );
}

const titles = [
  { t: "Original Points", x: 184, w: 206, y: 32 },
  { t: "Pos/Neg edge distances", x: 537, w: 321, y: 32 },
  { t: "Reconstructed Points", x: 17, w: 290, y: 375 },
  { t: "Orig/New Distances", x: 358, w: 276, y: 375 },
  { t: "Distance Correlations", x: 680, w: 293, y: 375 },
  { t: ".374", x: 800, w: 56, y: 590 },
];

export default function App() {
  return (
    <div style={{ position: "absolute", left: 0, top: 0, width: 982, height: 596, background: "#fff", overflow: "hidden" }}>
      <ScatterPanel left={98} top={62} w={379} h={233} xd={[-5.92, 6.55]} yd={[-6.3, 6.03]}
        series={[
          { name: "blue core", pts: p1BlueCore, color: BLUE, r: 9 },
          { name: "blue", pts: p1BlueOut, color: BLUE, r: 2.1 },
          { name: "magenta core", pts: p1MagCore, color: MAG, r: 9 },
          { name: "magenta", pts: p1MagOut, color: MAG, r: 2.1 },
          { name: "gold core", pts: p1GoldCore, color: GOLD, r: 9 },
          { name: "gold", pts: p1GoldOut, color: GOLD, r: 2.1 },
          { name: "green core", pts: p1GreenCore, color: GREEN, r: 9 },
          { name: "green", pts: p1GreenOut, color: GREEN, r: 2.1 },
        ]}
        xTicks={p1XTicks} yTicks={p1YTicks}
        xCfg={{ step: 2, digits: 0, fs: 10, gap: 11, major: 4, minor: 2.5 }}
        yCfg={{ step: 2, digits: 0, fs: 10, gap: 4, major: 4.5, minor: 2.5 }} />
      <HistPanel />
      <ScatterPanel left={25.5} top={402} w={284.5} h={174.7} xd={[0, 1.0107]} yd={[0, 1.0276]}
        series={[
          { name: "blue core", pts: p3BlueCore, color: BLUE, r: 8 },
          { name: "blue", pts: p3BlueOut, color: BLUE, r: 1.8 },
          { name: "magenta core", pts: p3MagCore, color: MAG, r: 8 },
          { name: "magenta", pts: p3MagOut, color: MAG, r: 1.8 },
          { name: "gold core", pts: p3GoldCore, color: GOLD, r: 8 },
          { name: "gold", pts: p3GoldOut, color: GOLD, r: 1.8 },
          { name: "green core", pts: p3GreenCore, color: GREEN, r: 8 },
          { name: "green", pts: p3GreenOut, color: GREEN, r: 1.8 },
        ]}
        xTicks={p3Ticks} yTicks={p3Ticks}
        xCfg={{ step: 0.2, digits: 1, fs: 8, gap: 8.5, major: 3.5, minor: 2 }}
        yCfg={{ step: 0.2, digits: 1, fs: 8, gap: 4, major: 3.5, minor: 2 }} />
      <ScatterPanel left={359} top={400} w={287} h={176.7} xd={[0, 9.795]} yd={[0, 1.464]}
        series={[{ name: "distances", pts: p4Points, color: BLUE, r: 1.9 }]}
        xTicks={p4XTicks} yTicks={p4YTicks}
        xCfg={{ step: 2, digits: 0, fs: 8, gap: 8.5, major: 3.5, minor: 2 }}
        yCfg={{ step: 0.2, digits: 1, fs: 8, gap: 4, major: 3.5, minor: 2 }} />
      <svg width={982} height={596} style={{ position: "absolute", left: 0, top: 0, pointerEvents: "none" }}>
        {titles.map((d) => (
          <text key={d.t} x={d.x} y={d.y} fontFamily={SERIF} fontSize={33} fill="#333" textLength={d.w} lengthAdjust="spacing">{d.t}</text>
        ))}
      </svg>
    </div>
  );
}
